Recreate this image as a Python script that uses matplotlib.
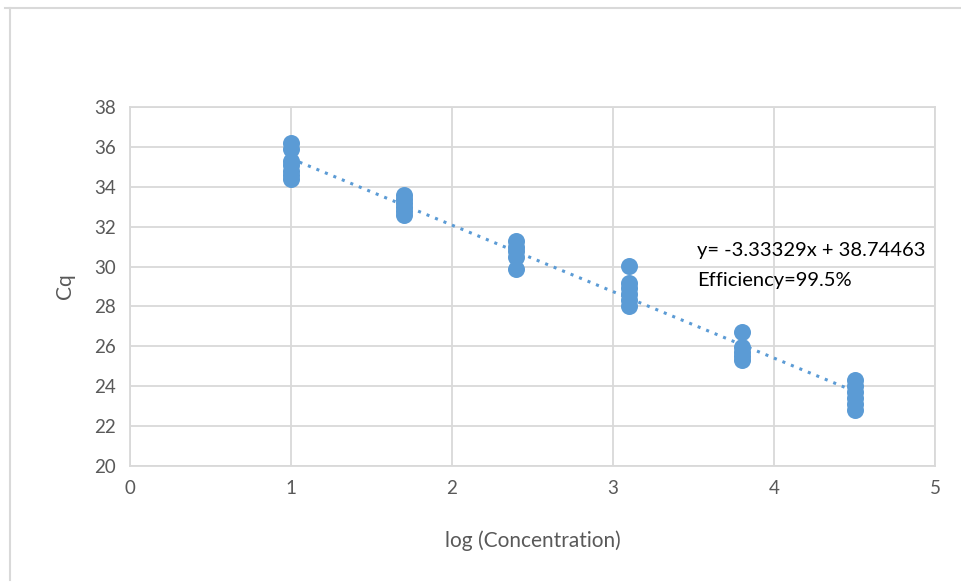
import matplotlib
matplotlib.use("Agg")
import matplotlib.pyplot as plt
from matplotlib.lines import Line2D

plt.rcParams['font.family'] = ['Lato', 'DejaVu Sans']

# Data
log_conc = [1.0, 1.7, 2.4, 3.1, 3.8, 4.5]
cq_values = [
    [36.2, 35.9, 35.3, 35.1, 34.8, 34.6, 34.4],
    [33.6, 33.4, 33.2, 33.0, 32.8, 32.6],
    [31.3, 31.0, 30.8, 30.5, 29.9],
    [30.05, 29.2, 28.9, 28.6, 28.3, 28.0],
    [26.7, 25.95, 25.7, 25.5, 25.3],
    [24.3, 24.0, 23.7, 23.4, 23.1, 22.8],
]
slope = -3.33329
intercept = 38.74463
efficiency = 99.5
x_ticks = [0, 1, 2, 3, 4, 5]
y_ticks = [20, 22, 24, 26, 28, 30, 32, 34, 36, 38]

xs, ys = [], []
for xv, group in zip(log_conc, cq_values):
    for yv in group:
        xs.append(xv)
        ys.append(yv)

fig = plt.figure(figsize=(9.61, 5.83), dpi=100)
ax = fig.add_axes([130/961, 1-466/583, (935-130)/961, (466-107)/583])

grid_c = '#D9D9D9'
ax.set_xlim(0, 5)
ax.set_ylim(20, 38)
ax.set_xticks(x_ticks)
ax.set_yticks(y_ticks)
ax.grid(True, color=grid_c, linewidth=1.3)
ax.set_axisbelow(True)
for s in ax.spines.values():
    s.set_color(grid_c)
    s.set_linewidth(1.3)
ax.tick_params(length=0, colors='#595959', labelsize=13.5, pad=10)

ax.scatter(xs, ys, s=150, color='#5B9BD5', zorder=3, linewidths=0)

x_line = [log_conc[0], log_conc[-1]]
y_line = [slope * x + intercept for x in x_line]
ax.plot(x_line, y_line, linestyle=(0, (1, 2)), color='#5B9BD5', linewidth=2.2, zorder=4)

ax.text(3.52, 30.8, f"y= {slope}x + {intercept}", fontsize=14.5, color='black', va='center', ha='left')
ax.text(3.52, 29.3, f"Efficiency={efficiency}%", fontsize=14.5, color='black', va='center', ha='left')

ax.set_xlabel('log (Concentration)', fontsize=15, color='#595959', labelpad=24)
ax.set_ylabel('Cq', fontsize=15, color='#595959', labelpad=14)

# outer chart border (partially visible)
fig.add_artist(Line2D([5/961, 1], [1-8/583, 1-8/583], color='#D9D9D9', linewidth=1.5, transform=fig.transFigure))
fig.add_artist(Line2D([10/961, 10/961], [1-8/583, 3/583], color='#D9D9D9', linewidth=1.5, transform=fig.transFigure))

fig.savefig('out.png', dpi=100)
